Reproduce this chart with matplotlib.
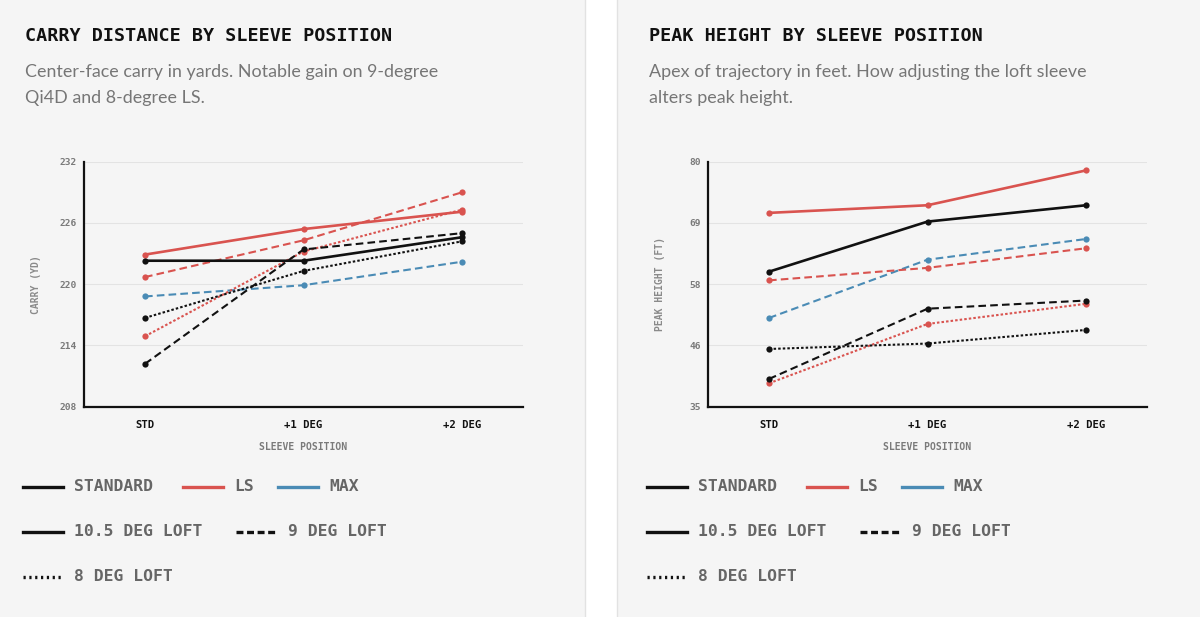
import matplotlib.pyplot as plt
from matplotlib.lines import Line2D
from matplotlib.patches import Rectangle

# =====================================================================
# Data
# =====================================================================
positions = ["STD", "+1 DEG", "+2 DEG"]

# carry, yards
carry_std_105 = [222.3, 222.3, 224.6]
carry_std_9 = [212.2, 223.4, 225.0]
carry_std_8 = [216.7, 221.3, 224.2]
carry_ls_105 = [222.9, 225.4, 227.1]
carry_ls_9 = [220.7, 224.3, 229.0]
carry_ls_8 = [214.9, 223.2, 227.3]
carry_max_9 = [218.8, 219.9, 222.2]
carry_ticks = [208, 214, 220, 226, 232]
carry_tick_labels = ["208", "214", "220", "226", "232"]

# peak height, feet
peak_std_105 = [59.8, 69.0, 72.0]
peak_std_9 = [40.1, 53.0, 54.5]
peak_std_8 = [45.6, 46.6, 49.1]
peak_ls_105 = [70.6, 72.0, 78.4]
peak_ls_9 = [58.2, 60.5, 64.1]
peak_ls_8 = [39.3, 50.2, 53.9]
peak_max_9 = [51.3, 62.0, 65.8]
peak_ticks = [35, 46.25, 57.5, 68.75, 80]
peak_tick_labels = ["35", "46", "58", "69", "80"]

# =====================================================================
# Style
# =====================================================================
W, H = 1200, 617
BG = "#f5f5f5"
BORDER = "#e2e2e2"
BLACK = "#111111"
RED = "#d9534f"
BLUE = "#4a8bb5"
GREY = "#767676"
MONO = "DejaVu Sans Mono"

plt.rcParams["lines.scale_dashes"] = False
DASHED = (0, (5.5, 3.0))
DOTTED = (0, (1.8, 1.5))

def px(x, y):
    # pixel position (from top-left) -> figure fraction
    return x / W, 1 - y / H

fig = plt.figure(figsize=(W / 100, H / 100), dpi=100, facecolor="white")

# panel backgrounds and borders
for x0, x1 in [(0, 585), (617, 1200)]:
    fig.add_artist(Rectangle(px(x0, H), (x1 - x0) / W, 1, transform=fig.transFigure,
                             facecolor=BG, edgecolor="none", zorder=0))
for xb in [585, 617]:
    fig.add_artist(Line2D([xb / W, xb / W], [0, 1], transform=fig.transFigure,
                          color=BORDER, lw=1, zorder=1))

def draw_panel(dx, title, sub1, sub2, ylabel, series, ticks, tick_labels):
    # title + subtitle
    fig.text(*px(25 + dx, 40.7), title, fontsize=13.2, fontweight="bold",
             family=MONO, color=BLACK, va="baseline")
    fig.text(*px(25 + dx, 77.3), sub1, fontsize=12.9, family="Lato", color=GREY, va="baseline")
    fig.text(*px(25 + dx, 102.7), sub2, fontsize=12.9, family="Lato", color=GREY, va="baseline")

    left, right = 84 + dx, 523 + dx
    top, bottom = 161.7, 406.7
    ax = fig.add_axes([left / W, 1 - bottom / H, (right - left) / W, (bottom - top) / H])
    ax.set_facecolor("none")

    x = list(range(len(positions)))
    for vals, color, ls, lw in series:
        ax.plot(x, vals, color=color, linestyle=ls, lw=lw, marker="o",
                markersize=4.5, markeredgewidth=0, zorder=3)

    ax.set_xlim(-0.385, 2.385)
    ax.set_ylim(ticks[0], ticks[-1])
    ax.set_xticks(x)
    ax.set_xticklabels(positions, family=MONO, fontweight="bold", fontsize=7.6, color=BLACK)
    ax.set_yticks(ticks)
    ax.set_yticklabels(tick_labels, family=MONO, fontweight="bold", fontsize=6.8, color="#7a7a7a")
    ax.tick_params(axis="both", length=0)
    ax.tick_params(axis="x", pad=9.5)
    ax.tick_params(axis="y", pad=5)

    ax.grid(axis="y", color="#e3e3e3", lw=0.8, zorder=0)
    ax.set_axisbelow(True)
    for s in ["top", "right"]:
        ax.spines[s].set_visible(False)
    for s in ["left", "bottom"]:
        ax.spines[s].set_color(BLACK)
        ax.spines[s].set_linewidth(1.6)

    ax.set_xlabel("SLEEVE POSITION", family=MONO, fontsize=7, fontweight="bold", color="#7a7a7a")
    ax.xaxis.set_label_coords(0.5, -0.145)
    ax.set_ylabel(ylabel, family=MONO, fontsize=7, fontweight="bold", color="#8a8a8a")
    ax.yaxis.set_label_coords(-0.097, 0.5)

    # legend, drawn by hand to match the three-row layout
    def handle(x0, y, color, ls):
        fig.add_artist(Line2D([(x0) / W, (x0 + 40) / W], [1 - y / H, 1 - y / H],
                              transform=fig.transFigure, color=color, lw=2.4, linestyle=ls))

    def label(x0, y, txt):
        fig.text(*px(x0, y), txt, family=MONO, fontweight="bold", fontsize=11.8,
                 color="#666666", va="center")

    rows = [486.7, 531.7, 576.7]
    handle(22.7 + dx, rows[0], BLACK, "-")
    label(74 + dx, rows[0], "STANDARD")
    handle(183 + dx, rows[0], RED, "-")
    label(234 + dx, rows[0], "LS")
    handle(278 + dx, rows[0], BLUE, "-")
    label(329 + dx, rows[0], "MAX")
    handle(22.7 + dx, rows[1], BLACK, "-")
    label(74 + dx, rows[1], "10.5 DEG LOFT")
    handle(236 + dx, rows[1], BLACK, (0, (5, 2.6)))
    label(288 + dx, rows[1], "9 DEG LOFT")
    handle(22.7 + dx, rows[2], BLACK, (0, (1.6, 2.6)))
    label(74 + dx, rows[2], "8 DEG LOFT")

draw_panel(
    0,
    "CARRY DISTANCE BY SLEEVE POSITION",
    "Center-face carry in yards. Notable gain on 9-degree",
    "Qi4D and 8-degree LS.",
    "CARRY (YD)",
    [
        (carry_max_9, BLUE, DASHED, 1.5),
        (carry_ls_8, RED, DOTTED, 1.5),
        (carry_ls_9, RED, DASHED, 1.5),
        (carry_ls_105, RED, "-", 1.9),
        (carry_std_8, BLACK, DOTTED, 1.5),
        (carry_std_9, BLACK, DASHED, 1.5),
        (carry_std_105, BLACK, "-", 1.9),
    ],
    carry_ticks,
    carry_tick_labels,
)

draw_panel(
    624,
    "PEAK HEIGHT BY SLEEVE POSITION",
    "Apex of trajectory in feet. How adjusting the loft sleeve",
    "alters peak height.",
    "PEAK HEIGHT (FT)",
    [
        (peak_max_9, BLUE, DASHED, 1.5),
        (peak_ls_8, RED, DOTTED, 1.5),
        (peak_ls_9, RED, DASHED, 1.5),
        (peak_ls_105, RED, "-", 1.9),
        (peak_std_8, BLACK, DOTTED, 1.5),
        (peak_std_9, BLACK, DASHED, 1.5),
        (peak_std_105, BLACK, "-", 1.9),
    ],
    peak_ticks,
    peak_tick_labels,
)

fig.savefig("out.png", dpi=100, facecolor=fig.get_facecolor())
